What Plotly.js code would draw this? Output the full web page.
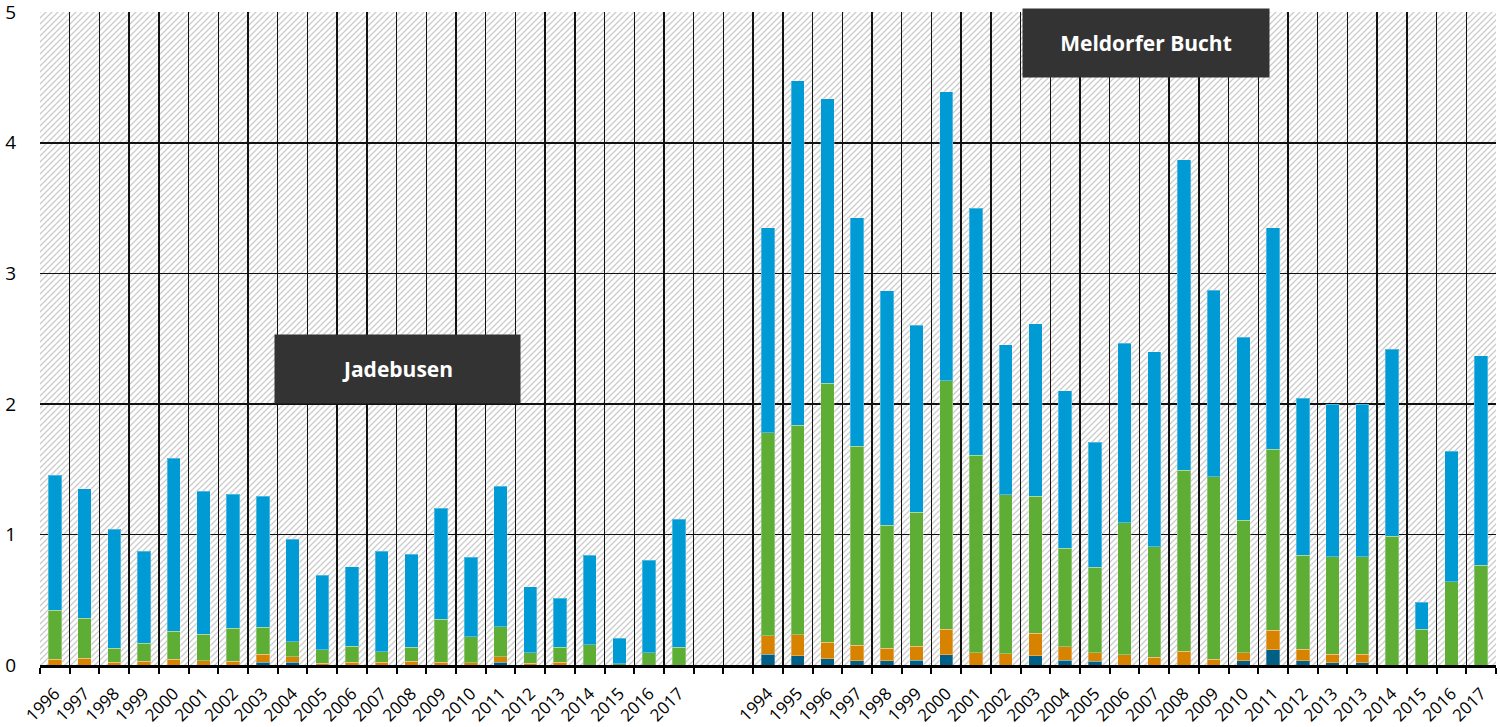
<!DOCTYPE html>
<html>
<head>
<meta charset="utf-8">
<script src="https://cdn.plot.ly/plotly-3.0.1.min.js"></script>
<style>html,body{margin:0;padding:0;background:#fff}#chart{width:1500px;height:727px}</style>
</head>
<body>
<div id="chart"></div>
<script>
// ---- Jadebusen ----
const jYears = ['1996','1997','1998','1999','2000','2001','2002','2003','2004','2005','2006','2007','2008','2009','2010','2011','2012','2013','2014','2015','2016','2017'];
const jDarkBlue = [0,0,0,0,0,0,0,0.023,0.023,0,0,0,0,0,0,0.023,0,0,0,0,0,0];
const jOrange   = [0.044,0.05,0.02,0.03,0.044,0.033,0.028,0.061,0.041,0.013,0.02,0.023,0.028,0.023,0.018,0.041,0.013,0.023,0,0,0,0];
const jGreen    = [0.376,0.31,0.108,0.136,0.216,0.204,0.255,0.204,0.114,0.102,0.125,0.077,0.107,0.329,0.199,0.229,0.081,0.112,0.156,0.01,0.092,0.135];
const jBlue     = [1.035,0.99,0.912,0.707,1.323,1.095,1.024,1.006,0.784,0.574,0.608,0.773,0.712,0.848,0.608,1.077,0.506,0.375,0.684,0.194,0.712,0.981];

// ---- Meldorfer Bucht ----
const mYears = ['1994','1995','1996','1997','1998','1999','2000','2001','2002','2003','2004','2005','2006','2007','2008','2009','2010','2011','2012','2013','2013','2014','2015','2016','2017'];
const mDarkBlue = [0.084,0.069,0.046,0.031,0.031,0.038,0.077,0,0,0.069,0.038,0.028,0,0,0,0,0.031,0.117,0.033,0.018,0.018,0,0,0,0];
const mOrange   = [0.14,0.163,0.128,0.12,0.099,0.105,0.196,0.094,0.087,0.174,0.102,0.066,0.079,0.059,0.107,0.044,0.063,0.149,0.087,0.066,0.066,0,0,0,0];
const mGreen    = [1.556,1.603,1.985,1.526,0.94,1.027,1.904,1.512,1.217,1.051,0.756,0.654,1.011,0.847,1.386,1.398,1.014,1.386,0.722,0.745,0.745,0.988,0.273,0.636,0.766];
const mBlue     = [1.568,2.639,2.18,1.748,1.796,1.433,2.213,1.891,1.149,1.32,1.204,0.957,1.376,1.494,2.379,1.429,1.401,1.699,1.2,1.169,1.169,1.429,0.207,1.0,1.602];

const gapCount = 2;
const groupLabels = ['Jadebusen','Meldorfer Bucht'];
const yTicks = [0,1,2,3,4,5];
const colors = {darkBlue:'#005F85', orange:'#D78300', green:'#5EAD35', blue:'#009BD5'};

// category keys (unique) and the visible tick labels
const gapKeys = Array.from({length:gapCount}, (_,i)=>'gap'+i);
const keys = jYears.map((y,i)=>'J'+i+'_'+y).concat(gapKeys, mYears.map((y,i)=>'M'+i+'_'+y));
const labels = jYears.concat(gapKeys.map(()=>''), mYears);
const gapNull = gapKeys.map(()=>null);

function series(j, m, color){
  return {
    type:'bar', x:keys, y:j.concat(gapNull, m),
    marker:{color:color, line:{color:'rgba(255,255,255,0.3)', width:1}},
    hoverinfo:'x+y', showlegend:false
  };
}
const data = [
  series(jDarkBlue, mDarkBlue, colors.darkBlue),
  series(jOrange, mOrange, colors.orange),
  series(jGreen, mGreen, colors.green),
  series(jBlue, mBlue, colors.blue)
];

const svg = "<svg xmlns='http://www.w3.org/2000/svg' width='1456' height='653'><defs><pattern id='h' width='6' height='6' patternUnits='userSpaceOnUse'><rect width='6' height='6' fill='white'/><path d='M-1,1 l2,-2 M0,6 l6,-6 M5,7 l2,-2' stroke='#cccccc' stroke-width='1.3'/></pattern></defs><rect width='100%' height='100%' fill='url(#h)'/></svg>";

const boxFont = {family:'Open Sans, sans-serif', size:21, color:'#ffffff', weight:'bold'};

const layout = {
  width:1500, height:727,
  margin:{l:40, r:4, t:12, b:62},
  paper_bgcolor:'#ffffff', plot_bgcolor:'#ffffff',
  barmode:'stack', bargap:0.55,
  font:{family:'Open Sans, sans-serif', color:'#000'},
  xaxis:{
    type:'category', categoryorder:'array', categoryarray:keys,
    tickmode:'array', tickvals:keys, ticktext:labels,
    tickson:'boundaries', ticks:'outside', ticklen:6, tickwidth:2, tickcolor:'#000',
    showgrid:true, gridcolor:'#111', gridwidth:1.4,
    showline:true, linecolor:'#000', linewidth:3,
    tickangle:-45, tickfont:{size:17, color:'#000'}, ticklabelstandoff:9,
    ticklabeloverflow:'allow',
    range:[-0.5, keys.length-0.5], fixedrange:true
  },
  yaxis:{
    range:[0,5.002], tickmode:'array', tickvals:yTicks, ticktext:yTicks.map(String),
    showgrid:true, gridcolor:'#111', gridwidth:1.4,
    zeroline:false, showline:false, ticks:'',
    tickfont:{size:19, color:'#000'}, ticklabelstandoff:23, ticklabeloverflow:'allow',
    fixedrange:true
  },
  images:[{
    source:'data:image/svg+xml;charset=utf-8,'+encodeURIComponent(svg),
    xref:'paper', yref:'paper', x:0, y:1, sizex:1, sizey:1,
    xanchor:'left', yanchor:'top', sizing:'stretch', layer:'below'
  }],
  annotations:[
    {text:groupLabels[0], xref:'paper', yref:'paper', x:0.2455, y:0.4533, xanchor:'center', yanchor:'middle',
     showarrow:false, bgcolor:'#333333', width:245, height:68, borderpad:0, font:boxFont},
    {text:groupLabels[1], xref:'paper', yref:'paper', x:0.7595, y:0.9528, xanchor:'center', yanchor:'middle',
     showarrow:false, bgcolor:'#333333', width:246, height:68, borderpad:0, font:boxFont}
  ]
};

Plotly.newPlot('chart', data, layout, {displayModeBar:false, staticPlot:true});
</script>
</body>
</html>
